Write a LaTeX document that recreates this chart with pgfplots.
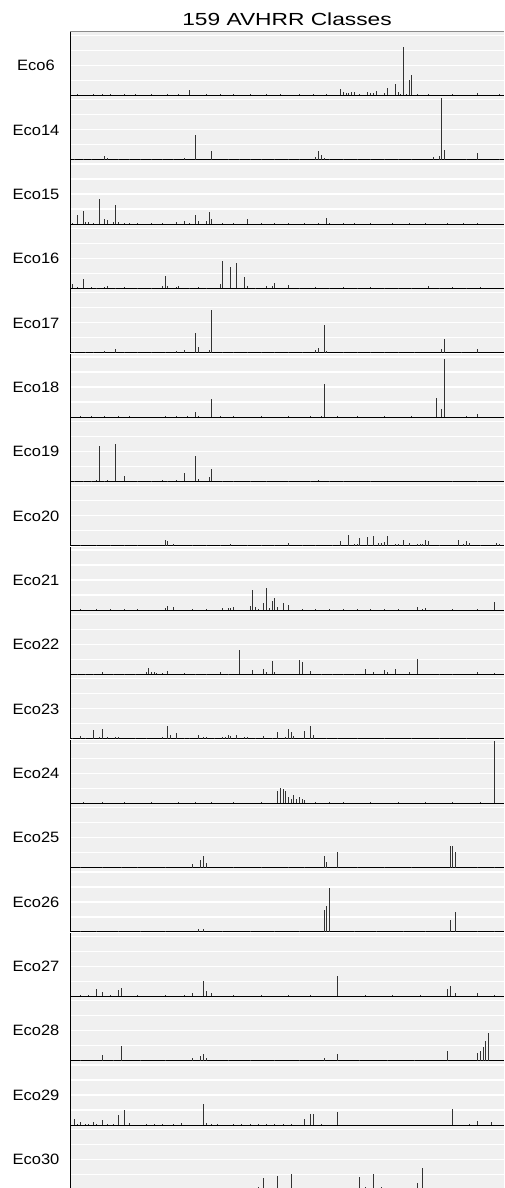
\documentclass[border=0pt]{standalone}
\usepackage{graphicx}
\usepackage{fontspec}
\setmainfont{Liberation Sans}
\usepackage{pgfplots}
\pgfplotsset{compat=1.18}

\definecolor{panelgrey}{HTML}{F0F0F0}

\pgfplotsset{
  eco/.style={
    anchor=south west, scale only axis,
    width=434pt, height=63.5pt,
    xmin=0.27, xmax=158.66, ymin=0, ymax=63.5,
    axis x line*=bottom, axis y line*=left,
    axis line style={black, line width=0.8pt},
    xtick=\empty, ytick={15,30,45,60}, yticklabels={},
    major tick length=0pt,
    ymajorgrids, grid style={white, line width=1.3pt},
    axis background/.style={fill=panelgrey},
  },
  spike/.style={ycomb, draw=black!80, line width=0.9pt, mark=none},
}

% one panel: #1 = row (0 = top), #2 = label, #3 = coordinates
\newcommand{\ecopanel}[3]{%
  \pgfmathsetmacro{\ecoY}{-95.3-#1*64.35}%
  \pgfmathsetmacro{\ecoL}{\ecoY+24.6}%
  \begin{axis}[eco, at={(70pt,\ecoY pt)}]
    \addplot[spike] coordinates {#3};
  \end{axis}
  \node[anchor=base, inner sep=0pt] at (36pt,\ecoL pt)
    {\fontsize{15}{18}\selectfont\scalebox{1.1}[1]{#2}};
}

\begin{document}
\begin{tikzpicture}
\useasboundingbox (0,0) rectangle (504pt,-1188pt);
\clip (0,0) rectangle (504pt,-1188pt);

\node[anchor=base, inner sep=0pt] at (287pt,-25.7pt)
  {\fontsize{17.5}{20}\selectfont\scalebox{1.3}[1]{159 AVHRR Classes}};

\ecopanel{0}{Eco6}{(3,0.8) (9,1) (12,1) (15,0.8) (20,0.8) (24,0.8) (30,0.8) (36,0.8) (40,0.8) (44,5) (50,0.8) (55,0.8) (60,0.8) (66,0.8) (72,1) (77,1) (84,0.8) (89,1.5) (94,0.8) (99,6) (100,3) (101,2) (102,2) (103,3) (104,3.5) (106,1) (109,3) (110,2) (111,2.5) (112,4.5) (115,2) (116,7) (119,11) (120,3) (121,1) (122,48.5) (123,1) (124,15) (125,20) (127,1) (131,0.8) (140,0.8) (149,2) (157,1)}
\ecopanel{1}{Eco14}{(2,1) (5,1) (8,1) (13,3.5) (14,1.5) (18,1) (22,1) (26,0.8) (30,0.8) (34,0.8) (38,0.8) (42,2) (46,25) (52,9) (58,1) (62,0.8) (66,0.8) (70,1) (75,0.8) (80,0.8) (84,0.8) (90,2.5) (91,9) (92,5) (93,2) (95,1) (100,1) (105,0.8) (110,0.8) (115,0.8) (120,0.8) (125,0.8) (133,3) (135,4) (136,62) (137,10) (145,0.8) (149,7) (157,1)}
\ecopanel{2}{Eco15}{(1,1.5) (3,9) (5,13) (6,2) (7,2) (9,0.8) (11,25) (13,5) (14,4) (16,2.5) (17,19) (18,2) (20,0.8) (22,0.8) (25,1) (30,1) (34,0.8) (39,2) (42,3.5) (44,0.8) (46,9) (47,3.5) (50,3) (51,12) (52,5) (56,1) (60,0.8) (65,5.5) (70,0.8) (75,0.8) (80,1) (86,0.8) (91,1) (94,6) (95,1) (100,0.8) (104,0.8) (110,1) (118,0.8) (124,0.8) (130,1) (138,0.8) (144,0.8) (149,1)}
\ecopanel{3}{Eco16}{(1,4) (3,1.5) (5,9) (8,1) (10,0.8) (13,1.5) (14,2) (17,0.8) (20,1) (25,0.8) (30,0.8) (34,2) (35,12) (36,2.5) (39,1.5) (40,2) (44,0.8) (47,1) (50,0.8) (55,4) (56,27) (59,21) (61,25) (64,11) (65,2.5) (68,0.8) (72,2) (74,2) (75,5) (80,3) (84,0.8) (90,1) (95,0.8) (100,1) (105,0.8) (110,1) (115,0.8) (120,0.8) (125,0.8) (131,2) (135,0.8) (140,1) (145,0.8) (150,1)}
\ecopanel{4}{Eco17}{(2,1) (6,1) (9,0.8) (13,2) (17,3.5) (20,0.8) (25,0.8) (30,0.8) (35,0.8) (39,2) (42,3) (46,20) (47,6) (51,2.5) (52,43) (56,0.8) (60,1) (65,0.8) (70,1) (75,0.8) (80,0.8) (85,0.8) (90,2.5) (91,5) (93,28) (94,2) (100,1) (105,0.8) (110,0.8) (115,0.8) (120,1) (126,0.8) (136,3.5) (137,14) (143,0.8) (149,3.5)}
\ecopanel{5}{Eco18}{(4,0.8) (8,0.8) (13,1) (18,0.8) (22,0.8) (35,0.8) (39,0.8) (43,1) (46,5) (47,1) (52,18) (55,0.8) (60,0.8) (70,0.8) (80,0.8) (88,0.8) (92,1) (93,33) (98,0.8) (105,0.8) (115,0.8) (125,0.8) (134,19) (136,8) (137,58) (145,0.8) (149,3.5)}
\ecopanel{6}{Eco19}{(2,0.8) (5,0.8) (8,0.8) (10,1.5) (11,35) (13,0.8) (14,1.5) (17,37) (20,5) (25,0.8) (30,0.8) (34,1) (36,0.8) (39,1) (42,8) (46,25) (47,2) (51,4.5) (52,12.5) (56,0.8) (60,0.8) (66,0.8) (72,0.8) (80,0.8) (88,0.8) (91,1.5) (95,0.8) (100,0.8) (110,0.8) (140,0.8) (149,0.8)}
\ecopanel{7}{Eco20}{(4,1) (10,0.8) (15,0.8) (20,0.8) (25,0.8) (35,5.5) (36,5) (38,2) (45,0.8) (50,0.8) (55,0.8) (59,1.5) (65,0.8) (70,0.8) (75,0.8) (80,2.5) (85,0.8) (90,0.8) (96,1) (99,4.5) (102,11) (104,2) (105,2) (106,7.5) (109,9) (111,10) (113,3) (114,3) (115,4) (116,9.5) (119,2) (120,2) (122,6) (124,3) (127,2) (128,1.5) (129,2) (130,5.5) (131,4.5) (135,0.8) (142,5.5) (144,2) (145,4.5) (146,2.5) (150,0.8) (156,3) (157,1.5)}
\ecopanel{8}{Eco21}{(4,1) (10,0.8) (15,0.8) (20,0.8) (25,0.8) (35,2) (36,4) (38,3.5) (45,0.8) (50,0.8) (56,2.5) (58,2) (59,2.5) (60,3) (66,4) (67,20) (68,3) (69,1.5) (71,7) (72,22) (73,2.5) (74,9) (75,12) (76,3) (78,7) (80,5) (85,0.8) (90,0.8) (95,0.8) (100,0.8) (105,0.8) (110,0.8) (115,0.8) (120,0.8) (127,3) (129,1.5) (130,2) (140,0.8) (149,1) (155,8)}
\ecopanel{9}{Eco22}{(3,0.8) (6,0.8) (9,0.8) (12,2.5) (16,0.8) (20,0.8) (24,0.8) (28,2) (29,6) (30,2.5) (31,2.5) (32,1.5) (34,1.5) (36,3) (42,1.5) (46,0.8) (50,0.8) (55,2) (58,0.8) (62,24) (67,4) (71,5.5) (72,2.5) (74,13) (75,2.5) (84,14) (85,12) (88,3) (92,0.8) (96,0.8) (100,0.8) (104,0.8) (108,5) (111,2) (115,4) (116,2) (119,5) (124,2.5) (127,15) (135,0.8) (140,0.8) (149,2) (155,1.5)}
\ecopanel{10}{Eco23}{(1,0.8) (4,2.5) (6,0.8) (9,8.5) (11,1.5) (12,10) (14,2) (17,2) (18,2) (24,0.8) (28,0.8) (34,2) (36,13) (37,4) (39,5.5) (42,1) (44,0.8) (47,4) (49,1.5) (50,1.5) (53,0.8) (56,1.5) (57,2) (58,3.5) (59,3) (61,4) (64,1.5) (65,2) (68,0.8) (71,3) (74,0.8) (76,7) (79,1.5) (80,10) (81,7) (82,2.5) (86,8) (88,12.5) (89,4) (94,1) (98,0.8) (105,0.8) (115,0.8) (125,0.8) (135,0.8) (145,0.8)}
\ecopanel{11}{Eco24}{(5,0.8) (12,0.8) (20,0.8) (30,0.8) (40,0.8) (46,0.8) (52,0.8) (60,0.8) (70,0.8) (76,12) (77,15) (78,14) (79,12) (80,6) (81,4) (82,8) (83,4) (84,6) (85,4) (86,3) (90,0.8) (95,0.8) (100,0.8) (110,0.8) (120,0.8) (130,0.8) (140,0.8) (150,0.8) (155,62)}
\ecopanel{12}{Eco25}{(4,0.8) (12,0.8) (19,0.8) (25,0.8) (35,0.8) (45,4) (48,8) (49,12) (50,5) (60,0.8) (70,0.8) (80,0.8) (86,0.8) (93,12) (94,6) (98,16) (105,0.8) (115,0.8) (125,0.8) (139,22) (140,22) (141,16) (149,0.8) (155,0.8)}
\ecopanel{13}{Eco26}{(4,0.8) (10,0.8) (18,0.8) (26,0.8) (35,0.8) (47,3) (49,3) (56,0.8) (66,0.8) (75,0.8) (84,0.8) (93,22) (94,26) (95,44) (104,0.8) (112,0.8) (122,0.8) (130,0.8) (139,12) (141,20) (149,0.8) (155,0.8)}
\ecopanel{14}{Eco27}{(4,0.8) (7,0.8) (10,7) (12,4) (15,0.8) (18,6) (19,8) (25,0.8) (35,0.8) (42,0.8) (45,3) (49,15) (50,5) (52,3) (60,0.8) (70,0.8) (80,0.8) (88,0.8) (98,20) (108,0.8) (118,0.8) (128,0.8) (138,7) (139,10) (141,3) (149,3) (155,0.8)}
\ecopanel{15}{Eco28}{(4,0.8) (12,6) (16,0.8) (19,15) (26,0.8) (35,0.8) (45,3) (48,5) (49,7) (50,3) (58,0.8) (66,0.8) (75,0.8) (84,0.8) (93,3) (98,7) (106,0.8) (116,0.8) (126,0.8) (138,10) (149,8) (150,10) (151,14) (152,20) (153,28)}
\ecopanel{16}{Eco29}{(2,6) (3,0.8) (4,3) (6,0.8) (7,0.8) (9,3) (10,0.8) (12,5) (14,0.8) (16,0.8) (18,9.5) (20,14.5) (22,2) (28,0.8) (31,0.8) (34,0.8) (38,0.8) (41,2) (49,21) (50,2) (52,0.8) (54,0.8) (60,0.8) (63,0.8) (66,0.8) (69,0.8) (72,0.8) (75,0.8) (78,0.8) (81,0.8) (86,6) (88,10.5) (89,11) (92,0.8) (98,13) (140,16) (146,0.8) (149,4) (154,3)}
\ecopanel{17}{Eco30}{(36,1) (58,1) (69,2) (71,11) (76,13) (81,15) (106,12.5) (108,2) (111,15) (114,2) (127,6) (129,21.5)}

\draw[black!45, line width=1pt] (70pt,-31.8pt) -- (504pt,-31.8pt);
\end{tikzpicture}
\end{document}
